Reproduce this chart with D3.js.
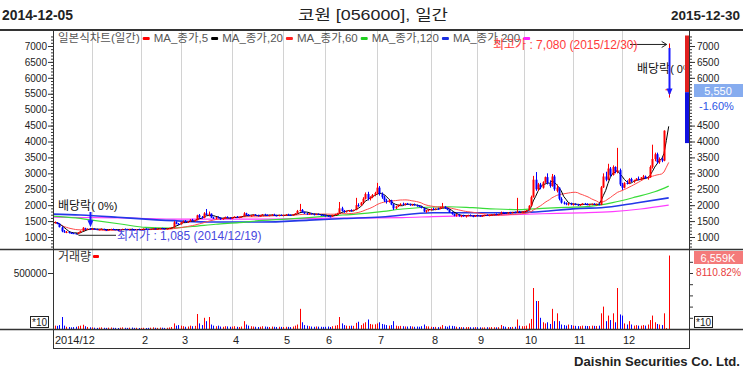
<!DOCTYPE html>
<html>
<head>
<meta charset="utf-8">
<script src="https://cdn.jsdelivr.net/npm/d3@7"></script>
<style>
html, body { margin: 0; padding: 0; background: #fff; }
svg { display: block; }
text { font-family: "Liberation Sans", Arial, "Noto Sans CJK KR", sans-serif; }
</style>
</head>
<body>
<div id="chart"></div>
<script>
// daily candles [open, high, low, close], 2014-12-05 .. 2015-12-30
var candles = [
  // 2014/12
  [1440,1470,1420,1450],[1450,1490,1430,1460],[1460,1470,1400,1420],[1420,1430,1300,1310],[1300,1330,1150,1180],
  [1180,1220,1130,1150],[1150,1190,1120,1160],[1160,1170,1110,1130],[1130,1150,1100,1120],[1120,1140,1095,1110],
  [1110,1120,1085,1100],[1100,1150,1090,1140],[1140,1200,1130,1190],[1190,1310,1180,1290],[1270,1290,1230,1250],
  [1250,1270,1230,1260],[1260,1280,1240,1250],
  // 1
  [1250,1270,1230,1260],[1260,1280,1240,1245],[1245,1260,1220,1230],[1230,1250,1210,1240],[1240,1270,1230,1255],
  [1255,1260,1220,1225],[1225,1240,1200,1215],[1215,1240,1205,1235],[1235,1260,1225,1250],[1250,1265,1230,1240],
  [1240,1250,1215,1220],[1220,1235,1200,1210],[1210,1240,1200,1230],[1230,1260,1220,1250],[1250,1270,1235,1240],
  [1240,1255,1220,1230],[1230,1250,1215,1245],[1245,1265,1230,1235],[1235,1250,1210,1220],[1220,1245,1210,1240],
  [1240,1260,1225,1230],
  // 2
  [1230,1250,1215,1245],[1245,1270,1235,1260],[1260,1275,1240,1250],[1250,1260,1230,1235],[1235,1255,1225,1250],
  [1250,1280,1245,1270],[1270,1285,1250,1255],[1255,1270,1240,1260],[1260,1280,1250,1275],[1275,1290,1255,1265],
  [1265,1280,1245,1250],[1250,1270,1240,1265],[1265,1290,1255,1280],[1280,1310,1270,1300],[1300,1500,1290,1460],
  [1460,1490,1400,1420],[1420,1440,1380,1400],
  // 3
  [1400,1480,1390,1470],[1470,1520,1450,1500],[1500,1530,1460,1470],[1470,1500,1440,1490],[1490,1560,1480,1540],
  [1540,1570,1500,1510],[1510,1540,1480,1530],[1530,1700,1520,1680],[1680,1720,1600,1620],[1620,1660,1580,1600],
  [1600,1780,1590,1740],[1740,1880,1680,1690],[1690,1800,1650,1730],[1730,1740,1600,1610],[1610,1640,1570,1590],
  [1590,1630,1560,1620],[1620,1650,1590,1600],[1600,1620,1540,1560],[1560,1600,1540,1590],[1590,1640,1580,1630],
  [1630,1650,1590,1600],[1600,1620,1560,1580],
  // 4
  [1580,1620,1570,1610],[1610,1650,1600,1640],[1640,1660,1610,1620],[1620,1640,1590,1630],[1630,1660,1610,1650],
  [1650,1780,1640,1740],[1740,1760,1680,1700],[1700,1720,1650,1660],[1660,1690,1640,1680],[1680,1710,1660,1700],
  [1700,1720,1670,1680],[1680,1700,1650,1660],[1660,1690,1640,1680],[1680,1720,1670,1710],[1710,1730,1680,1690],
  [1690,1710,1660,1670],[1670,1700,1650,1690],[1690,1720,1680,1700],[1700,1730,1670,1680],[1680,1700,1650,1660],
  [1660,1700,1650,1690],[1690,1710,1660,1670],
  // 5
  [1670,1700,1650,1690],[1690,1720,1670,1700],[1700,1730,1680,1690],[1690,1710,1660,1680],[1680,1720,1670,1710],
  [1710,1750,1700,1740],[1740,1850,1730,1820],[1820,2040,1800,1850],[1850,1880,1760,1780],[1780,1800,1720,1740],
  [1740,1760,1700,1720],[1720,1750,1700,1740],[1740,1760,1710,1720],[1720,1740,1680,1700],[1700,1730,1690,1720],
  [1720,1740,1690,1700],[1700,1720,1670,1690],[1690,1710,1660,1680],
  // 6
  [1680,1700,1640,1660],[1660,1680,1630,1650],[1650,1670,1620,1640],[1640,1700,1630,1690],[1690,1730,1670,1720],
  [1720,1760,1700,1740],[1740,2100,1730,1900],[1900,1950,1800,1820],[1820,1850,1760,1790],[1790,1830,1770,1810],
  [1810,1850,1790,1840],[1840,1870,1800,1820],[1820,1860,1810,1850],[1850,2230,1840,2000],[2000,2060,1950,1990],
  [1990,2100,1980,2080],[2080,2250,2060,2200],[2200,2400,2180,2350],[2350,2420,2150,2200],[2200,2280,2150,2250],
  [2250,2350,2220,2320],[2320,2420,2280,2380],
  // 7
  [2380,2700,2350,2550],[2550,2600,2300,2350],[2350,2400,2200,2250],[2250,2300,2100,2150],[2150,2200,2050,2100],
  [2100,2180,2080,2150],[2150,2170,2000,2020],[2020,2050,1850,1900],[1900,1980,1880,1960],[1960,2020,1940,2000],
  [2000,2060,1980,2040],[2040,2080,2000,2020],[2020,2060,1990,2050],[2050,2070,2010,2030],[2030,2050,1980,2000],
  [2000,2040,1980,2020],[2020,2050,1990,2000],[2000,2020,1950,1970],[1970,2000,1940,1960],[1960,1980,1900,1910],
  [1910,1930,1780,1800],[1800,1850,1760,1830],[1830,1880,1800,1860],
  // 8
  [1860,1900,1830,1880],[1880,1920,1850,1870],[1870,1900,1840,1890],[1890,1920,1860,1880],[1880,1950,1870,1930],
  [1930,2070,1910,1950],[1950,1970,1880,1900],[1900,1920,1840,1860],[1860,1870,1760,1780],[1780,1800,1700,1720],
  [1720,1740,1650,1670],[1670,1720,1640,1700],[1700,1710,1640,1660],[1660,1690,1620,1680],[1680,1700,1640,1650],
  [1650,1680,1610,1670],[1670,1700,1650,1690],[1690,1710,1650,1660],[1660,1680,1620,1640],[1640,1690,1630,1680],
  // 9
  [1680,1700,1650,1670],[1670,1690,1640,1660],[1660,1680,1630,1670],[1670,1700,1650,1690],[1690,1710,1660,1680],
  [1680,1700,1650,1690],[1690,1720,1670,1700],[1700,1730,1680,1720],[1720,1740,1690,1710],[1710,1730,1680,1720],
  [1720,1800,1710,1770],[1770,1790,1740,1760],[1760,1780,1730,1750],[1750,1780,1730,1770],[1770,1790,1740,1760],
  [1760,1790,1740,1780],[1780,1800,1750,1770],[1770,2230,1760,1800],[1800,1820,1760,1780],[1780,1810,1760,1790],
  // 10
  [1790,1820,1770,1800],[1800,1850,1790,1840],[1840,2000,1830,1980],[1980,2300,1960,2250],[2250,2920,2240,2800],
  [2800,3040,2450,2500],[2500,2700,2450,2650],[2650,2700,2500,2550],[2550,2750,2520,2720],[2720,2900,2700,2880],
  [2880,3000,2650,2700],[2700,2780,2550,2600],[2600,2980,2580,2900],[2900,2950,2450,2500],[2450,2650,2400,2550],
  [2550,2560,2150,2200],[2200,2250,2050,2080],[2080,2120,2020,2060],[2060,2090,2000,2030],[2030,2070,1990,2050],
  [2050,2080,2000,2020],
  // 11
  [2020,2050,1990,2040],[2040,2060,2000,2020],[2020,2040,1980,2000],[2000,2030,1980,2020],[2020,2060,2000,2050],
  [2050,2070,2010,2030],[2030,2060,2000,2010],[2010,2040,1990,2030],[2030,2050,2000,2040],[2040,2060,2010,2020],
  [2020,2050,1990,2030],[2030,2060,2000,2010],[2010,2600,2000,2560],[2560,3000,2540,2900],[2900,3050,2750,2800],
  [2800,3300,2780,3150],[3150,3200,2900,2950],[2950,3250,2930,3200],[3200,3220,3000,3050],[3050,3800,3000,3100],
  [3100,3150,2600,2650],
  // 12
  [2650,2700,2480,2550],[2550,2720,2530,2700],[2700,2780,2650,2680],[2680,2850,2660,2820],[2820,2860,2720,2750],
  [2750,2800,2700,2780],[2780,2850,2760,2830],[2830,2900,2780,2800],[2800,2880,2790,2870],[2870,2950,2840,2900],
  [2900,2930,2820,2850],[2850,2900,2800,2880],[2880,3250,2860,3200],[3200,3900,3150,3450],[3450,3650,3380,3600],
  [3600,3650,3300,3350],[3350,3500,3300,3450],[3450,3500,3350,3400],[3400,4350,3380,4340],[5640,5640,5640,5640],
  [5500,7080,5380,5550]
];

// daily volume, thousand shares
var volumes = [
  250,300,280,350,1070,300,200,180,150,170,200,250,300,380,250,180,150,
  150,120,100,130,150,110,100,120,140,110,100,90,120,150,110,100,120,130,100,110,90,
  100,110,90,100,120,150,110,100,130,120,100,110,140,180,500,300,350,
  300,250,200,220,300,250,280,1340,500,350,1000,700,1070,400,300,250,300,220,200,250,230,200,
  220,250,200,180,220,700,400,300,250,220,200,180,200,250,220,200,180,220,200,180,200,190,
  180,200,190,170,220,300,400,1800,600,350,300,250,220,200,230,210,200,190,
  200,220,180,250,300,350,1070,500,350,300,280,300,280,550,650,350,500,600,850,450,400,420,
  500,600,450,400,350,300,350,700,300,250,280,250,230,220,250,230,200,220,200,250,400,250,230,
  200,180,190,170,200,350,250,200,300,280,250,200,180,170,160,170,180,160,150,170,
  160,150,140,150,160,150,170,160,150,160,360,250,200,180,170,190,200,850,300,250,
  250,300,500,900,3660,2500,2500,1000,600,500,600,450,1800,700,1400,700,400,350,300,400,350,
  300,280,260,250,300,280,270,260,300,280,270,300,1400,2000,700,1200,800,1400,600,3660,1300,
  1200,500,400,700,400,300,350,300,300,350,300,400,800,1200,600,450,400,350,1400,80,6559
];

// first trading day of each month (index into candles) and its axis label
var monthStarts = [0, 17, 38, 55, 77, 99, 117, 139, 162, 182, 202, 223, 244];
var monthLabels = ["2014/12", "", "2", "3", "4", "5", "6", "7", "8", "9", "10", "11", "12"];

// long moving averages, [day index, price]
var ma60 = [[0,1660],[10,1600],[17,1530],[30,1400],[40,1300],[50,1280],[60,1330],[70,1400],[80,1450],
  [90,1520],[100,1560],[110,1610],[120,1670],[130,1720],[140,1790],[150,1880],[160,1935],[170,1950],
  [180,1920],[190,1880],[200,1860],[210,1900],[220,1930],[230,1960],[240,2080],[250,2260],[258,2420],[264,2600]];
var ma120 = [[0,1720],[12,1690],[28,1620],[40,1560],[55,1500],[70,1470],[90,1470],[110,1530],[125,1580],
  [141,1630],[163,1760],[190,1760],[205,1780],[226,1900],[235,1920],[250,2070],[264,2230]];
var ma200 = [[0,1620],[30,1600],[55,1560],[85,1560],[120,1590],[150,1610],[163,1640],[190,1690],
  [210,1730],[226,1760],[240,1800],[252,1880],[264,2000]];

var priceTicks = [1000, 1500, 2000, 2500, 3000, 3500, 4000, 4500, 5000, 5500, 6000, 6500, 7000];
var lowInfo = {value: 1085, date: "2014/12/19", index: 10};
var highInfo = {value: 7080, date: "2015/12/30", index: 264};
var exDivIndex = [16, 264];
var limitUp = 7330, limitDown = 3950;
var priceChangePct = -1.60;
var volumeChangePct = 8110.82;

var W = 743, H = 372;
var L = 53, R = 690;
var svg = d3.select("#chart").append("svg").attr("width", W).attr("height", H);

var x = d3.scaleLinear().domain([0, 264]).range([52.3, 668.7]);
var y = d3.scaleLinear().domain([1000, 7000]).range([237, 46]);
var yv = d3.scaleLinear().domain([0, 5000]).range([329, 273]);

var defs = svg.append("defs");
defs.append("clipPath").attr("id", "clipPrice").append("rect")
  .attr("x", L + 0.5).attr("y", 31).attr("width", 684 - L).attr("height", 218);
defs.append("clipPath").attr("id", "clipVol").append("rect")
  .attr("x", L + 0.5).attr("y", 250).attr("width", R - L - 1).attr("height", 79);

var up = "#ff0000", down = "#0000ff";
var colorOf = function(d) { return d[3] >= d[0] ? up : down; };
var pct = function(v) { return d3.format(".2f")(v).replace("\u2212", "-") + "%"; };

// month gridlines
monthStarts.slice(1).forEach(function(m) {
  var gx = Math.round(x(m)) + 0.5;
  svg.append("line").attr("x1", gx).attr("x2", gx).attr("y1", 31).attr("y2", 249)
    .attr("stroke", "#d2d2d2");
  svg.append("line").attr("x1", gx).attr("x2", gx).attr("y1", 250).attr("y2", 329)
    .attr("stroke", "#d2d2d2");
});

var price = svg.append("g").attr("clip-path", "url(#clipPrice)");
var curved = d3.line().x(function(d) { return x(d[0]); }).y(function(d) { return y(d[1]); })
  .curve(d3.curveMonotoneX);
var straight = d3.line().x(function(d) { return x(d[0]); }).y(function(d) { return y(d[1]); });

price.append("path").attr("d", curved(ma200)).attr("fill", "none").attr("stroke", "#ff3cff").attr("stroke-width", 1.2);
price.append("path").attr("d", curved(ma120)).attr("fill", "none").attr("stroke", "#2438e8").attr("stroke-width", 1.6);
price.append("path").attr("d", curved(ma60)).attr("fill", "none").attr("stroke", "#38dc38").attr("stroke-width", 1.2);

// short moving averages from the closes
var closes = candles.map(function(d) { return d[3]; });
function movingAverage(n) {
  return closes.map(function(c, i) {
    return [i, d3.mean(closes.slice(Math.max(0, i - n + 1), i + 1))];
  });
}
price.append("path").attr("d", straight(movingAverage(20))).attr("fill", "none").attr("stroke", "#ff4a4a").attr("stroke-width", 1);
price.append("path").attr("d", straight(movingAverage(5))).attr("fill", "none").attr("stroke", "#000").attr("stroke-width", 1);

// candles
var cg = price.selectAll(".candle").data(candles).enter().append("g").attr("class", "candle");
cg.append("line")
  .attr("x1", function(d, i) { return Math.round(x(i)) + 0.5; })
  .attr("x2", function(d, i) { return Math.round(x(i)) + 0.5; })
  .attr("y1", function(d) { return y(d[1]); })
  .attr("y2", function(d) { return y(d[2]); })
  .attr("stroke", colorOf);
cg.append("rect")
  .attr("x", function(d, i) { return Math.round(x(i)) - 0.5; })
  .attr("width", 2)
  .attr("y", function(d) { return y(Math.max(d[0], d[3])); })
  .attr("height", function(d) { return Math.max(1, Math.abs(y(d[0]) - y(d[3]))); })
  .attr("fill", colorOf);

// ex-dividend markers
var exLabels = [{lx: 58, ly: 210, top: 212}, {lx: 637, ly: 73, top: 48}];
exDivIndex.forEach(function(idx, k) {
  var ax = Math.round(x(idx)) + 0.5;
  var tip = y(candles[idx][2]) - 2;
  var t = price.append("text").attr("x", exLabels[k].lx).attr("y", exLabels[k].ly)
    .attr("fill", "#111").attr("font-size", 12);
  t.append("tspan").text("배당락");
  t.append("tspan").attr("font-size", 11).text("( 0%)");
  price.append("line").attr("x1", ax).attr("x2", ax).attr("y1", exLabels[k].top).attr("y2", tip - 5)
    .attr("stroke", "#1a1aff").attr("stroke-width", 2);
  price.append("path").attr("d", "M" + (ax - 3) + "," + (tip - 7) + "L" + (ax + 3) + "," + (tip - 7) + "L" + ax + "," + tip + "Z")
    .attr("fill", "#1a1aff");
});

// lowest / highest price notes
var fmt = d3.format(",");
var lowY = y(lowInfo.value);
var lowX = x(lowInfo.index);
price.append("path").attr("d", "M116," + (lowY + 1) + "H" + (lowX + 3) + "L" + (lowX) + "," + (lowY - 2))
  .attr("fill", "none").attr("stroke", "#222");
price.append("text").attr("x", 117).attr("y", 240).attr("fill", "#4848e0").attr("font-size", 12)
  .text("최저가 : " + fmt(lowInfo.value) + " (" + lowInfo.date + ")");
var highY = y(highInfo.value) + 1;
var highX = x(highInfo.index) - 2;
svg.append("path").attr("d", "M630," + highY + "H" + highX + "M" + (highX - 5) + "," + (highY - 3) + "L" + highX + "," + highY + "L" + (highX - 5) + "," + (highY + 3))
  .attr("fill", "none").attr("stroke", "#222");

// volume bars
var vol = svg.append("g").attr("clip-path", "url(#clipVol)");
vol.selectAll("rect").data(volumes).enter().append("rect")
  .attr("x", function(d, i) { return Math.round(x(i)); })
  .attr("width", 1)
  .attr("y", function(d) { return yv(d); })
  .attr("height", function(d) { return 329 - yv(d); })
  .attr("fill", function(d, i) { return colorOf(candles[i]); });

// axes
function styleAxis(g) {
  g.select(".domain").remove();
  g.selectAll(".tick line").attr("stroke", "#333");
  g.selectAll(".tick text").attr("font-size", 10).attr("fill", "#222")
    .attr("font-family", "'Liberation Sans', Arial, sans-serif");
}
var plain = d3.format("d");
svg.append("g").attr("transform", "translate(" + L + ",0)")
  .call(d3.axisLeft(y).tickValues(d3.range(700, 7301, 100)).tickSize(2).tickFormat("")).call(styleAxis);
svg.append("g").attr("transform", "translate(" + L + ",0)")
  .call(d3.axisLeft(y).tickValues(priceTicks).tickSize(5).tickPadding(1).tickFormat(plain)).call(styleAxis);
svg.append("g").attr("transform", "translate(" + R + ",0)")
  .call(d3.axisRight(y).tickValues(d3.range(700, 7301, 100)).tickSize(2).tickFormat("")).call(styleAxis);
svg.append("g").attr("transform", "translate(" + R + ",0)")
  .call(d3.axisRight(y).tickValues(priceTicks.filter(function(p) { return p !== 5000 && p !== 5500; }))
    .tickSize(5).tickPadding(2).tickFormat(plain)).call(styleAxis);
svg.append("g").attr("transform", "translate(" + L + ",0)")
  .call(d3.axisLeft(yv).tickValues([5000]).tickSize(5).tickPadding(1)
    .tickFormat(function(d) { return plain(d * 100); })).call(styleAxis);
svg.append("g").attr("transform", "translate(" + R + ",0)")
  .call(d3.axisRight(yv).tickValues(d3.range(1000, 6001, 1000)).tickSize(3).tickFormat("")).call(styleAxis);

// limit range bar at the right edge
svg.append("rect").attr("x", 685).attr("y", y(limitUp)).attr("width", 4)
  .attr("height", y(closes[264]) - y(limitUp)).attr("fill", "#e02020");
svg.append("rect").attr("x", 685).attr("y", y(closes[264])).attr("width", 4)
  .attr("height", y(limitDown) - y(closes[264])).attr("fill", "#1010e0");

// frame
var frame = svg.append("g").attr("stroke", "#333").attr("fill", "none");
frame.append("line").attr("x1", 0).attr("x2", W).attr("y1", 30).attr("y2", 30).attr("stroke-width", 2);
frame.append("line").attr("x1", 0).attr("x2", W).attr("y1", 249.5).attr("y2", 249.5).attr("stroke-width", 1.3);
frame.append("line").attr("x1", 0).attr("x2", W).attr("y1", 329.5).attr("y2", 329.5).attr("stroke-width", 1.3);
frame.append("line").attr("x1", L + 0.5).attr("x2", L + 0.5).attr("y1", 30).attr("y2", 348.5);
frame.append("line").attr("x1", R - 0.5).attr("x2", R - 0.5).attr("y1", 30).attr("y2", 348.5);
frame.append("line").attr("x1", L).attr("x2", R).attr("y1", 348.5).attr("y2", 348.5);

// month labels
monthStarts.forEach(function(m, k) {
  if (!monthLabels[k]) return;
  svg.append("text").attr("x", k === 0 ? L + 2 : Math.round(x(m)) + 1).attr("y", 344)
    .attr("font-size", 11).attr("fill", "#222").text(monthLabels[k]);
});

// legend
var legendItems = [
  {label: "일본식차트(일간)", color: "#ff0000"},
  {label: "MA_종가,5", color: "#000000"},
  {label: "MA_종가,20", color: "#ff2020"},
  {label: "MA_종가,60", color: "#20d020"},
  {label: "MA_종가,120", color: "#1a2ee0"},
  {label: "MA_종가,200", color: "#ff20ff"}
];
var lx = 58;
legendItems.forEach(function(d) {
  var t = svg.append("text").attr("x", lx).attr("y", 42).attr("font-size", 11.5).attr("fill", "#555").text(d.label);
  lx += t.node().getComputedTextLength() + 3;
  svg.append("rect").attr("x", lx).attr("y", 37).attr("width", 7).attr("height", 3).attr("rx", 1).attr("fill", d.color);
  lx += 11;
});
svg.append("text").attr("x", 493).attr("y", 49).attr("fill", "#ff3a3a").attr("font-size", 12)
  .text("최고가 : " + fmt(highInfo.value) + " (" + highInfo.date + ")");

svg.append("text").attr("x", 58).attr("y", 261).attr("font-size", 12).attr("fill", "#333").text("거래량");
svg.append("rect").attr("x", 93).attr("y", 255).attr("width", 6).attr("height", 3).attr("rx", 1).attr("fill", "#ff0000");

// x10 boxes
[[30, 316], [694, 316]].forEach(function(p) {
  svg.append("rect").attr("x", p[0] + 0.5).attr("y", p[1] + 0.5).attr("width", 18).attr("height", 11)
    .attr("fill", "#fff").attr("stroke", "#222");
  svg.append("text").attr("x", p[0] + 2).attr("y", p[1] + 10).attr("font-size", 10).attr("fill", "#222").text("*10");
});

// current price / volume boxes
svg.append("rect").attr("x", 694).attr("y", 84).attr("width", 49).attr("height", 13).attr("fill", "#86acef");
svg.append("text").attr("x", 718).attr("y", 94.5).attr("text-anchor", "middle").attr("font-size", 11)
  .attr("fill", "#fff").text(fmt(closes[264]));
svg.append("text").attr("x", 699).attr("y", 110).attr("font-size", 11).attr("fill", "#2c55e6")
  .text(pct(priceChangePct));
svg.append("rect").attr("x", 694).attr("y", 251).attr("width", 49).attr("height", 13).attr("fill", "#f47a7a");
svg.append("text").attr("x", 718).attr("y", 261.5).attr("text-anchor", "middle").attr("font-size", 11)
  .attr("fill", "#fff").text(fmt(volumes[264]) + "K");
svg.append("text").attr("x", 696).attr("y", 276).attr("font-size", 10.5).attr("fill", "#e83c3c")
  .attr("textLength", 45).attr("lengthAdjust", "spacingAndGlyphs").text(pct(volumeChangePct));

// titles
svg.append("text").attr("x", 2).attr("y", 20).attr("font-size", 14).attr("font-weight", "bold")
  .attr("fill", "#222").attr("textLength", 71).attr("lengthAdjust", "spacingAndGlyphs").text("2014-12-05");
svg.append("text").attr("x", 671).attr("y", 20).attr("font-size", 13.5).attr("font-weight", "bold")
  .attr("fill", "#222").attr("textLength", 69).attr("lengthAdjust", "spacingAndGlyphs").text("2015-12-30");
svg.append("text").attr("x", 298).attr("y", 20).attr("font-size", 15)
  .attr("fill", "#222").attr("textLength", 150).attr("lengthAdjust", "spacingAndGlyphs").text("코원 [056000], 일간");
svg.append("text").attr("x", 574).attr("y", 366).attr("font-size", 13).attr("font-weight", "bold")
  .attr("font-family", "'Liberation Sans Narrow', 'Liberation Sans', Arial, sans-serif")
  .attr("fill", "#222").attr("textLength", 166).attr("lengthAdjust", "spacingAndGlyphs").text("Daishin Securities Co. Ltd.");
</script>
</body>
</html>
